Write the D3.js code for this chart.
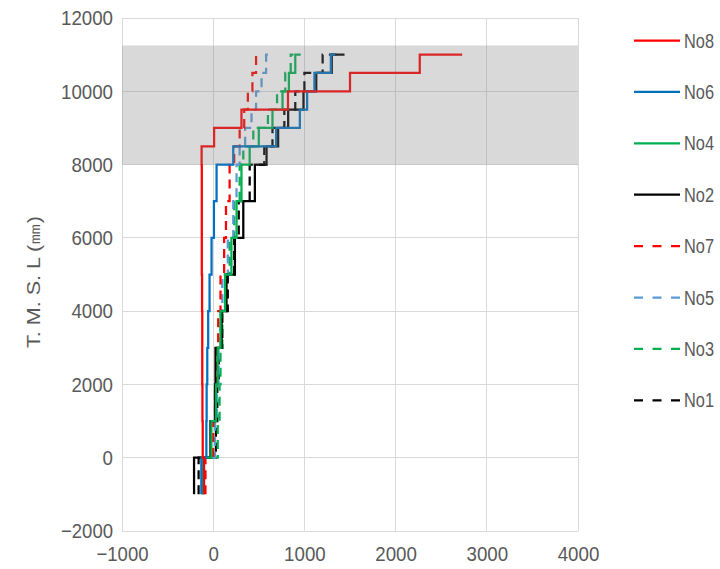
<!DOCTYPE html>
<meta charset="utf-8">
<style>
    body { margin: 0; background: #fff; }
    text { font-family: "Liberation Sans", sans-serif; fill: #595959; }
    .grid line { stroke: #d9d9d9; stroke-width: 1; shape-rendering: crispEdges; }
    .domain { display: none; }
    .tick line { display: none; }
</style>
<body>
<script src="https://d3js.org/d3.v7.min.js"></script>
<script>
    // elevation levels of each step (mm)
    var levels = [-1000, 0, 1000, 2000, 3000, 4000, 5000, 6000, 7000, 8000, 8500, 9000, 9500, 10000, 10500, 11000];

    // x value of each vertical segment, last one = end of top horizontal
    var no8 = [-100, -115, -118, -120, -120, -122, -125, -125, -125, -127, 10, 310, 820, 1500, 2265, 2730];
    var no6 = [-130, -75, -72, -65, -55, -40, -18, 8, 37, 220, 690, 950, 1030, 1110, 1290, 1340];
    var no4 = [-120, -20, 30, 50, 80, 130, 200, 256, 310, 400, 500, 650, 760, 830, 900, 960];
    var no2 = [-210, -30, 20, 25, 92, 146, 238, 330, 457, 585, 712, 822, 990, 1130, 1300, 1440];
    var no7 = [-85, 0, 20, 40, 55, 80, 120, 140, 180, 230, 290, 340, 380, 430, 470, 510];
    var no5 = [-105, 20, 40, 60, 80, 100, 160, 220, 256, 290, 350, 420, 470, 530, 580, 630];
    var no3 = [-110, 50, 70, 80, 100, 130, 180, 230, 290, 330, 440, 600, 700, 790, 850, 880];
    var no1 = [-160, 30, 45, 60, 100, 160, 230, 280, 400, 560, 650, 780, 900, 1000, 1200, 1350];

    var names = ["No8", "No6", "No4", "No2", "No7", "No5", "No3", "No1"];
    var values = [no8, no6, no4, no2, no7, no5, no3, no1];
    var colors = ["#ff0000", "#0070c0", "#00b050", "#000000", "#ff0000", "#5b9bd5", "#00b050", "#000000"];
    var dashed = [false, false, false, false, true, true, true, true];

    var xTicks = [-1000, 0, 1000, 2000, 3000, 4000];
    var yTicks = [-2000, 0, 2000, 4000, 6000, 8000, 10000, 12000];
    var band = [8000, 11250];

    var width = 720, height = 569;
    var plot = {left: 122, right: 578, top: 18, bottom: 531};

    var x = d3.scaleLinear().domain([-1000, 4000]).range([plot.left, plot.right]);
    var y = d3.scaleLinear().domain([-2000, 12000]).range([plot.bottom, plot.top]);

    var svg = d3.select("body").append("svg")
        .attr("width", width)
        .attr("height", height);

    // grid
    var grid = svg.append("g").attr("class", "grid");
    grid.selectAll(".gx").data(xTicks).enter().append("line")
        .attr("x1", function(d) { return x(d); }).attr("x2", function(d) { return x(d); })
        .attr("y1", plot.top).attr("y2", plot.bottom);
    grid.selectAll(".gy").data(yTicks).enter().append("line")
        .attr("y1", function(d) { return y(d); }).attr("y2", function(d) { return y(d); })
        .attr("x1", plot.left).attr("x2", plot.right);

    // narrow-ish labels: squeeze each to about 10.4px per character
    function squeeze(sel) {
        sel.style("font-size", "21px")
            .attr("lengthAdjust", "spacingAndGlyphs")
            .attr("textLength", function() { return this.textContent.length * 10.4; });
    }

    // axes (labels only)
    svg.append("g")
        .attr("transform", "translate(0," + plot.bottom + ")")
        .call(d3.axisBottom(x).tickValues(xTicks).tickSize(0).tickPadding(15).tickFormat(d3.format("d")))
        .selectAll("text")
        .call(squeeze);

    svg.append("g")
        .attr("transform", "translate(" + (plot.left - 9) + ",0)")
        .call(d3.axisLeft(y).tickValues(yTicks).tickSize(0).tickPadding(0).tickFormat(d3.format("d")))
        .selectAll("text")
        .call(squeeze);

    svg.selectAll(".tick text").attr("fill", "#595959");

    // step lines
    function stepPoints(xs) {
        var pts = [];
        for (var i = 0; i < levels.length - 1; i++) {
            pts.push([xs[i], levels[i]]);
            pts.push([xs[i], levels[i + 1]]);
        }
        pts.push([xs[xs.length - 1], levels[levels.length - 1]]);
        return pts;
    }

    var line = d3.line()
        .x(function(d) { return x(d[0]); })
        .y(function(d) { return y(d[1]); });

    // draw dashed first so solid lines sit on top like the original
    var order = [7, 6, 5, 4, 3, 2, 1, 0];
    svg.append("g").selectAll("path")
        .data(order)
        .enter().append("path")
        .attr("d", function(i) { return line(stepPoints(values[i])); })
        .attr("fill", "none")
        .attr("stroke", function(i) { return colors[i]; })
        .attr("stroke-width", 2.25)
        .attr("stroke-dasharray", function(i) { return dashed[i] ? "9,6" : null; });

    // translucent band on top of the lines
    svg.append("rect")
        .attr("x", plot.left)
        .attr("width", plot.right - plot.left)
        .attr("y", y(band[1]))
        .attr("height", y(band[0]) - y(band[1]))
        .attr("fill", "#808080")
        .attr("fill-opacity", 0.3);

    // y title
    svg.append("text")
        .attr("transform", "translate(40,282) rotate(-90)")
        .attr("text-anchor", "middle")
        .attr("lengthAdjust", "spacingAndGlyphs")
        .attr("textLength", 132)
        .style("font-size", "18px")
        .text("T. M. S. L (㎜)");

    // legend
    var legend = svg.append("g").selectAll("g")
        .data(names)
        .enter().append("g")
        .attr("transform", function(d, i) { return "translate(634," + (40.5 + i * 51.4) + ")"; });

    legend.append("line")
        .attr("x1", 0).attr("x2", 46)
        .attr("stroke", function(d, i) { return colors[i]; })
        .attr("stroke-width", 2.25)
        .attr("stroke-dasharray", function(d, i) { return dashed[i] ? "9,9.5" : null; });

    legend.append("text")
        .attr("x", 50)
        .attr("dy", "0.35em")
        .attr("lengthAdjust", "spacingAndGlyphs")
        .attr("textLength", 30)
        .style("font-size", "20px")
        .text(function(d) { return d; });
</script>
